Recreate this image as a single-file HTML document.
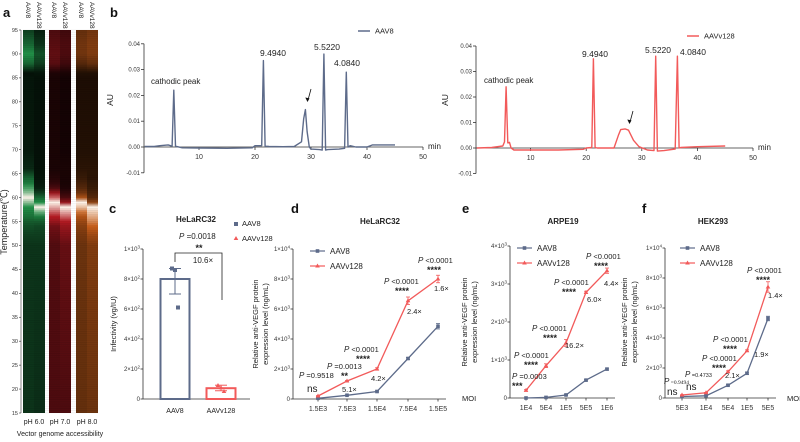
<!DOCTYPE html>
<html><head><meta charset="utf-8"><style>
html,body{margin:0;padding:0;background:#fff}
svg{display:block;font-family:"Liberation Sans",sans-serif}
</style></head><body>
<svg id="fig" width="800" height="442" viewBox="0 0 800 442" xmlns="http://www.w3.org/2000/svg">
<defs id="defs"></defs>
<g id="root"></g>
</svg>
<script>
// ---------- DATA ----------
const hmTemps = [15,50,52,54,55,56,57,58,59,60,61,62,63,64,66,70,85,86,88,90,92,95];
const hmPh6Aav8   = [0.25,0.25,0.3,0.38,0.45,0.55,0.62,0.7,0.85,1.0,0.85,0.75,0.6,0.5,0.2,0.12,0.1,0.08,0.5,0.7,0.5,0.3];
const hmPh6Aav128 = [0.22,0.25,0.3,0.35,0.45,0.6,0.8,1.0,0.7,0.5,0.3,0.15,0.12,0.1,0.08,0.08,0.08,0.1,0.3,0.4,0.25,0.15];
const hmPh7Aav8   = [0.3,0.32,0.38,0.45,0.6,0.7,0.8,0.9,1.0,0.8,0.6,0.3,0.2,0.15,0.1,0.1,0.1,0.12,0.35,0.38,0.35,0.3];
const hmPh7Aav128 = [0.3,0.4,0.5,0.6,0.7,0.8,0.9,1.0,0.6,0.3,0.2,0.12,0.1,0.1,0.1,0.08,0.08,0.1,0.25,0.3,0.3,0.25];
const hmPh8Aav8   = [0.35,0.38,0.42,0.48,0.55,0.62,0.75,0.9,1.0,0.6,0.4,0.3,0.25,0.2,0.15,0.12,0.1,0.12,0.3,0.4,0.4,0.35];
const hmPh8Aav128 = [0.38,0.45,0.55,0.7,0.78,0.85,0.92,1.0,0.5,0.3,0.25,0.2,0.18,0.15,0.15,0.12,0.1,0.12,0.35,0.45,0.45,0.4];
const hmTicks = [15,20,25,30,35,40,45,50,55,60,65,70,75,80,85,90,95];

const cieAav8T = [0.3,2,3,4.5,5.2,5.5,5.8,7,10,15,19.5,20,21.2,21.5,21.8,22.5,25,27,28.3,28.7,29,29.3,29.7,30,31.5,32,32.3,32.6,33,35,36,36.3,36.6,37,38,40,41,41.5,45];
const cieAav8V = [0.0002,0.0002,0.0005,0.0008,0.0003,0.022,0.0003,-0.0003,-0.0004,-0.0005,-0.0003,0.0005,0.0005,0.0335,0.0003,0.0002,0.0001,0.0002,0.002,0.011,0.0145,0.006,0.0,-0.0008,-0.001,-0.0012,0.036,-0.0012,-0.001,-0.0008,-0.0005,0.029,0.0,0.0005,0.0,0.0,0.0008,0.0008,0.0008];
const cieAav128T = [0.3,3,5,5.3,5.6,5.9,6.2,6.5,7,10,15,19.5,20,21,21.3,21.6,22,25,25.8,26.2,27,27.6,28.5,29.5,31,32.2,32.5,32.8,34,36,36.4,36.7,37,40,45];
const cieAav128V = [0.0,0.0002,0.0008,0.0024,0.024,0.002,0.0022,0.0,-0.0008,-0.0008,-0.0008,-0.0005,0.0,0.0002,0.035,0.0002,0.0,0.0,0.005,0.0072,0.0075,0.007,0.003,0.0005,-0.0008,-0.001,0.036,-0.0012,-0.001,-0.0004,0.036,0.0,0.0002,0.0005,0.0008];
const cieTicksY = [0.04,0.03,0.02,0.01,0.00,-0.01];
const cieTicksX = [10,20,30,40,50];

const infCats = ["AAV8","AAVv128"];
const infMeans = [800,72];
const infErrHi = [870,92];
const infErrLo = [700,55];
const infPoints = [[870,860,610],[90,75,50]];
const infTicks = [0,200,400,600,800,1000];

const dCats = ["1.5E3","7.5E3","1.5E4","7.5E4","1.5E5"];
const dAav8 = [50,250,500,2700,4850];
const dAav128 = [200,1200,2000,6550,8000];
const dErr128 = [30,40,80,250,250];
const dErr8 = [20,20,40,60,180];
const dTicks = [0,2000,4000,6000,8000,10000];
const eCats = ["1E4","5E4","1E5","5E5","1E6"];
const eAav8 = [0,15,80,470,760];
const eAav128 = [200,850,1450,2780,3350];
const eErr128 = [20,50,90,30,70];
const eErr8 = [5,5,10,20,25];
const eTicks = [0,1000,2000,3000,4000];
const fCats = ["5E3","1E4","5E4","1E5","5E5"];
const fAav8 = [100,150,850,1650,5300];
const fAav128 = [200,350,1750,3150,7400];
const fErr128 = [20,20,60,60,350];
const fErr8 = [20,20,40,80,150];
const fTicks = [0,2000,4000,6000,8000,10000];

// ---------- HELPERS ----------
const NS="http://www.w3.org/2000/svg";
const root=document.getElementById('root');
const defs=document.getElementById('defs');
function el(tag,attrs,parent){const e=document.createElementNS(NS,tag);for(const k in attrs)e.setAttribute(k,attrs[k]);(parent||root).appendChild(e);return e;}
function txt(s,x,y,size,opt,parent){opt=opt||{};const t=el('text',{x:x,y:y,'font-size':size,fill:opt.fill||'#222','text-anchor':opt.anchor||'start'},parent);
 if(opt.weight)t.setAttribute('font-weight',opt.weight); if(opt.italic)t.setAttribute('font-style','italic'); if(opt.family)t.setAttribute('font-family',opt.family);
 if(opt.rot!==undefined)t.setAttribute('transform','rotate('+opt.rot+' '+x+' '+y+')'); t.textContent=s; return t;}
function sciLabel(v,x,y,parent){
 const t=el('text',{x:x,y:y,'font-size':6,fill:'#333','text-anchor':'end'},parent);
 if(v===0){t.textContent='0';return t;}
 const e=Math.floor(Math.log10(v)+1e-9);const m=Math.round(v/Math.pow(10,e));
 const a=document.createElementNS(NS,'tspan');a.textContent=m+'×10';t.appendChild(a);
 const b=document.createElementNS(NS,'tspan');b.setAttribute('dy','-2.5');b.setAttribute('font-size','4.5');b.textContent=e;t.appendChild(b);
 return t;}

[['a',3,17],['b',110,17],['c',109,213],['d',291,213],['e',462,213],['f',642,213]].forEach(p=>{
 const t=txt(p[0],p[1],p[2],13,{weight:'bold',fill:'#111'});
 
 
});

// ---------- PANEL A ----------
(function(){
 const g=el('g',{});
 
 
 const yTop=30,yBot=413;
 const ty=t=>yTop+(95-t)/80*(yBot-yTop);
 const cols=[
  {x:23,w:11,d:hmPh6Aav8,c:[40,170,85],lab:'AAV8'},{x:34,w:11,d:hmPh6Aav128,c:[40,170,85],lab:'AAVv128'},
  {x:49,w:11,d:hmPh7Aav8,c:[210,30,40],lab:'AAV8'},{x:60,w:11,d:hmPh7Aav128,c:[210,30,40],lab:'AAVv128'},
  {x:76,w:11,d:hmPh8Aav8,c:[235,110,30],lab:'AAV8'},{x:87,w:11,d:hmPh8Aav128,c:[235,110,30],lab:'AAVv128'}];
 function color(v,c){let r,gg,b;
  if(v<0.7){const f=v/0.7;r=c[0]*f*0.85;gg=c[1]*f*0.85;b=c[2]*f*0.85;}
  else{const f=(v-0.7)/0.3;r=c[0]*0.85+(255-c[0]*0.85)*f;gg=c[1]*0.85+(245-c[1]*0.85)*f;b=c[2]*0.85+(235-c[2]*0.85)*f;}
  return 'rgb('+Math.round(r)+','+Math.round(gg)+','+Math.round(b)+')';}
 cols.forEach((col,i)=>{
  const lg=el('linearGradient',{id:'hg'+i,x1:0,y1:0,x2:0,y2:1},defs);
  for(let k=hmTemps.length-1;k>=0;k--){
   const off=(ty(hmTemps[k])-yTop)/(yBot-yTop);
   el('stop',{offset:off,'stop-color':color(col.d[k],col.c)},lg);}
  const r=el('rect',{x:col.x,y:yTop,width:col.w,height:yBot-yTop,fill:'url(#hg'+i+')'},g);
  
  
  const t=txt(col.lab,col.x+3,2,6.5,{rot:90},g);
  
  
 });
 for(let y=yTop;y<yBot;y+=2.2){el('line',{x1:23,x2:98,y1:y,y2:y,stroke:'#000','stroke-opacity':0.08,'stroke-width':0.6},g);}
 el('line',{x1:21,x2:21,y1:yTop,y2:yBot,stroke:'#333','stroke-width':0.6},g);
 hmTicks.forEach(t=>{const y=ty(t);el('line',{x1:19,x2:21,y1:y,y2:y,stroke:'#333','stroke-width':0.6},g);
  const l=txt(String(t),18,y+1.8,5.5,{anchor:'end',fill:'#333'},g);
  
  });
 const yt=txt('Temperature(℃)',7,222,9,{anchor:'middle',rot:-90,family:'"Liberation Sans","Noto Sans CJK SC",sans-serif'},g);
 
 
 [['pH 6.0',34],['pH 7.0',60],['pH 8.0',87]].forEach(p=>{const t=txt(p[0],p[1],424,7,{anchor:'middle'},g);
  
  });
 const xt=txt('Vector genome accessibility',60,436,7,{anchor:'middle'},g);
 
 
})();

// ---------- PANEL B ----------
function cie(cfg){
 const g=el('g',{});
 
 
 const sx=t=>cfg.x0+t*cfg.px10/10;
 const sy=v=>cfg.y0-v*cfg.py01/0.01;
 el('line',{x1:cfg.ax,x2:cfg.ax,y1:sy(0.04),y2:sy(-0.01),stroke:'#333','stroke-width':0.8},g);
 el('line',{x1:cfg.ax,x2:sx(50),y1:sy(0),y2:sy(0),stroke:'#333','stroke-width':0.8},g);
 cieTicksY.forEach(v=>{el('line',{x1:cfg.ax-3,x2:cfg.ax,y1:sy(v),y2:sy(v),stroke:'#333','stroke-width':0.8},g);
  const l=txt(v.toFixed(2),cfg.ax-4,sy(v)+2,6,{anchor:'end',fill:'#333'},g);
  
  });
 cieTicksX.forEach(v=>{el('line',{x1:sx(v),x2:sx(v),y1:sy(0),y2:sy(0)+3,stroke:'#333','stroke-width':0.8},g);
  const l=txt(String(v),sx(v),sy(0)+12,7,{anchor:'middle',fill:'#333'},g);
  
  });
 const m=txt('min',sx(50)+5,sy(0)+2,8,{},g);
 
 
 const a=txt('AU',cfg.au[0],cfg.au[1],8.5,{anchor:'middle',rot:-90},g);
 
 
 let d='';cfg.T.forEach((t,i)=>{d+=(i?'L':'M')+sx(t).toFixed(1)+','+sy(cfg.V[i]).toFixed(1);});
 const p=el('path',{d:d,fill:'none',stroke:cfg.color,'stroke-width':1.4,'stroke-linejoin':'round'},g);
 
 
 el('line',{x1:cfg.leg[0],x2:cfg.leg[0]+12,y1:cfg.leg[1],y2:cfg.leg[1],stroke:cfg.color,'stroke-width':1.5},g);
 const lt=txt(cfg.label,cfg.leg[0]+17,cfg.leg[1]+2.5,7.5,{},g);
 
 
 const cp=txt('cathodic peak',cfg.cath[0],cfg.cath[1],8,{},g);
 
 
 cfg.peaks.forEach(pk=>{const t=txt(pk[0],pk[1],pk[2],8.5,{anchor:'middle'},g);
  
  });
 const ax=cfg.arrow[0],ay=cfg.arrow[1];
 el('line',{x1:ax+3,y1:ay-13,x2:ax,y2:ay-2,stroke:'#111','stroke-width':0.8},g);
 const ar=el('path',{d:'M'+(ax-0.5)+','+ay+' l-2.2,-4.5 l4.2,0.9 z',fill:'#111'},g);
 
 
}
cie({name:'electropherogram-aav8',x0:143,px10:56,y0:147,py01:25.8,ax:144,T:cieAav8T,V:cieAav8V,color:'#5d6b8a',label:'AAV8',leg:[358,31],au:[113,100],
 cath:[151,84],peaks:[['9.4940',273,56],['5.5220',327,50],['4.0840',347,66]],arrow:[308,102]});
cie({name:'electropherogram-aav128',x0:475,px10:55.6,y0:148,py01:25.5,ax:476,T:cieAav128T,V:cieAav128V,color:'#f25a5a',label:'AAVv128',leg:[687,36],au:[448,100],
 cath:[484,83],peaks:[['9.4940',595,57],['5.5220',658,53],['4.0840',693,55]],arrow:[630,124]});

// ---------- PANEL C ----------
(function(){
 const g=el('g',{});
 
 
 const ax=143,y0=399,yTop=249;
 const sy=v=>y0-v/1000*(y0-yTop);
 el('line',{x1:ax,x2:ax,y1:yTop,y2:y0,stroke:'#333','stroke-width':0.8},g);
 el('line',{x1:ax,x2:250,y1:y0,y2:y0,stroke:'#333','stroke-width':0.8},g);
 infTicks.forEach(v=>{el('line',{x1:ax-2.5,x2:ax,y1:sy(v),y2:sy(v),stroke:'#333','stroke-width':0.8},g);
  const l=sciLabel(v,ax-3,sy(v)+2,g);
  
  });
 const yt=txt('Infectivity (vg/IU)',116,324,7.5,{anchor:'middle',rot:-90},g);
 
 
 const cx=[175,221],cols=['#5d6b8a','#f25a5a'];
 infCats.forEach((c,i)=>{
  const b=el('rect',{x:cx[i]-14.5,y:sy(infMeans[i]),width:29,height:y0-sy(infMeans[i]),fill:'none',stroke:cols[i],'stroke-width':2},g);
  
  
  el('line',{x1:cx[i],x2:cx[i],y1:sy(infErrHi[i]),y2:sy(infErrLo[i]),stroke:cols[i],'stroke-width':1},g);
  [infErrHi[i],infErrLo[i]].forEach(v=>el('line',{x1:cx[i]-6,x2:cx[i]+6,y1:sy(v),y2:sy(v),stroke:cols[i],'stroke-width':1},g));
  infPoints[i].forEach((v,k)=>{const px=cx[i]+(k-1)*3;
   const m=i===0?el('rect',{x:px-2,y:sy(v)-2,width:4,height:4,fill:cols[0]},g):el('path',{d:'M'+px+','+(sy(v)-2.5)+' l2.3,4 l-4.6,0 z',fill:cols[1]},g);
   
   });
  const l=txt(c,cx[i],413,7,{anchor:'middle'},g);
  
  
 });
 const tt=txt('HeLaRC32',196,222,8,{anchor:'middle',weight:'bold'},g);
 
 
 el('rect',{x:234,y:222,width:4,height:4,fill:'#5d6b8a'},g);
 const l1=txt('AAV8',242,226,7.5,{},g);
 
 
 el('path',{d:'M236,236 l2.3,4 l-4.6,0 z',fill:'#f25a5a'},g);
 const l2=txt('AAVv128',242,241,7.5,{},g);
 
 
 const br=el('path',{d:'M175,262 L175,253 L222,253 L222,300',fill:'none',stroke:'#222','stroke-width':0.8},g);
 
 
 const p=el('text',{x:179,y:239,'font-size':8,fill:'#222'},g);
 p.innerHTML='<tspan font-style="italic">P</tspan> =0.0018';
 
 
 txt('**',199,251,9,{anchor:'middle',weight:'bold'},g);
 txt('10.6×',203,263,8,{anchor:'middle'},g);
})();

// ---------- PANELS D/E/F ----------
function lineChart(cfg){
 const g=el('g',{});
 
 
 const sy=v=>cfg.y0-v/cfg.ymax*(cfg.y0-cfg.yTop);
 el('line',{x1:cfg.ax,x2:cfg.ax,y1:cfg.yTop,y2:cfg.y0,stroke:'#333','stroke-width':0.8},g);
 el('line',{x1:cfg.ax,x2:cfg.xs[cfg.xs.length-1]+8,y1:cfg.y0,y2:cfg.y0,stroke:'#333','stroke-width':0.8},g);
 cfg.ticks.forEach(v=>{el('line',{x1:cfg.ax-2.5,x2:cfg.ax,y1:sy(v),y2:sy(v),stroke:'#333','stroke-width':0.8},g);
  const l=sciLabel(v,cfg.ax-3,sy(v)+2,g);
  
  });
 cfg.cats.forEach((c,i)=>{el('line',{x1:cfg.xs[i],x2:cfg.xs[i],y1:cfg.y0,y2:cfg.y0+2.5,stroke:'#333','stroke-width':0.8},g);
  const l=txt(c,cfg.xs[i],cfg.y0+12,7,{anchor:'middle',fill:'#333'},g);
  
  });
 if(cfg.moi){const mo=txt('MOI',cfg.moi[0],cfg.moi[1],7.5,{},g);
  
  }
 const t1=txt('Relative anti-VEGF protein',cfg.ylab,cfg.ylabY,7.5,{anchor:'middle',rot:-90},g);
 
 
 txt('expression level (ng/mL)',cfg.ylab+10,cfg.ylabY,7.5,{anchor:'middle',rot:-90},g);
 const tt=txt(cfg.title,cfg.titleX,224,8,{anchor:'middle',weight:'bold'},g);
 
 
 const series=[{d:cfg.s8,e:cfg.e8,c:'#5d6b8a',m:'sq',n:'AAV8'},{d:cfg.s128,e:cfg.e128,c:'#f25a5a',m:'tri',n:'AAVv128'}];
 series.forEach((s,si)=>{
  let d='';s.d.forEach((v,i)=>{d+=(i?'L':'M')+cfg.xs[i]+','+sy(v).toFixed(1);});
  const p=el('path',{d:d,fill:'none',stroke:s.c,'stroke-width':1.3},g);
  
  
  s.d.forEach((v,i)=>{const x=cfg.xs[i],y=sy(v);
   el('line',{x1:x,x2:x,y1:sy(v+s.e[i]),y2:sy(Math.max(0,v-s.e[i])),stroke:s.c,'stroke-width':0.8},g);
   [v+s.e[i],Math.max(0,v-s.e[i])].forEach(w=>el('line',{x1:x-2,x2:x+2,y1:sy(w),y2:sy(w),stroke:s.c,'stroke-width':0.8},g));
   const m=s.m==='sq'?el('rect',{x:x-1.8,y:y-1.8,width:3.6,height:3.6,fill:s.c},g):el('path',{d:'M'+x+','+(y-2.5)+' l2.3,4 l-4.6,0 z',fill:s.c},g);
   
   });
  const ly=cfg.leg[1]+si*15;
  el('line',{x1:cfg.leg[0],x2:cfg.leg[0]+15,y1:ly,y2:ly,stroke:s.c,'stroke-width':1.2},g);
  if(s.m==='sq')el('rect',{x:cfg.leg[0]+5.7,y:ly-1.8,width:3.6,height:3.6,fill:s.c},g);
  else el('path',{d:'M'+(cfg.leg[0]+7.5)+','+(ly-2.5)+' l2.3,4 l-4.6,0 z',fill:s.c},g);
  const lt=txt(s.n,cfg.leg[0]+20,ly+3,8,{},g);
  
  
 });
 cfg.ann.forEach(a=>{
  let t;
  if(a[0][0]==='P'){t=el('text',{x:a[1],y:a[2],'font-size':a[3]||7.5,fill:'#222'},g);
   if(a[4])t.setAttribute('font-family','"Liberation Serif",serif');
   const i=document.createElementNS(NS,'tspan');i.setAttribute('font-style','italic');i.setAttribute('font-family','"Liberation Sans",sans-serif');i.setAttribute('font-size','8');i.textContent='P';t.appendChild(i);
   const r=document.createElementNS(NS,'tspan');r.textContent=a[0].slice(1);t.appendChild(r);}
  else t=txt(a[0],a[1],a[2],a[3]||7.5,{weight:a[0].indexOf('*')>=0?'bold':undefined},g);
  
  
 });
}
lineChart({name:'chart-d-helarc32',ax:293,y0:399,yTop:249,ymax:10000,xs:[318,347,377,408,438],cats:dCats,s8:dAav8,s128:dAav128,e8:dErr8,e128:dErr128,ticks:dTicks,
 moi:null,ylab:258,ylabY:324,title:'HeLaRC32',titleX:380,leg:[310,251],
 ann:[['P =0.9518',299,378],['ns',307,392,10],['P =0.0013',327,369],['**',341,379,9],['5.1×',342,392],['P <0.0001',344,352],['****',356,362,9],['4.2×',371,381],
  ['P <0.0001',384,284],['****',395,294,9],['2.4×',407,314],['P <0.0001',418,263],['****',427,273,9],['1.6×',434,291]]});
lineChart({name:'chart-e-arpe19',ax:510,y0:398,yTop:246,ymax:4000,xs:[526,546,566,586,607],cats:eCats,s8:eAav8,s128:eAav128,e8:eErr8,e128:eErr128,ticks:eTicks,
 moi:[462,401],ylab:467,ylabY:322,title:'ARPE19',titleX:563,leg:[517,248],
 ann:[['P =0.0003',512,379],['***',512,389,9],['P <0.0001',514,358],['****',524,368,9],['P <0.0001',532,331],['****',543,341,9],['16.2×',565,348],
  ['P <0.0001',554,285],['****',562,295,9],['6.0×',587,302],['P <0.0001',586,259],['****',594,269,9],['4.4×',604,286]]});
lineChart({name:'chart-f-hek293',ax:665,y0:398,yTop:248,ymax:10000,xs:[682,706,728,747,768],cats:fCats,s8:fAav8,s128:fAav128,e8:fErr8,e128:fErr128,ticks:fTicks,
 moi:[787,401],ylab:627,ylabY:322,title:'HEK293',titleX:713,leg:[680,248],
 ann:[['P =0.9494',664,384,5.5,true],['ns',667,395,10],['P =0.4733',685,377,5.5],['ns',686,390,10],['P <0.0001',702,361],['****',712,371,9],['2.1×',725,378],
  ['P <0.0001',713,342],['****',723,352,9],['1.9×',754,357],['P <0.0001',747,273],['****',756,283,9],['1.4×',768,298]]});
</script>
</body></html>
